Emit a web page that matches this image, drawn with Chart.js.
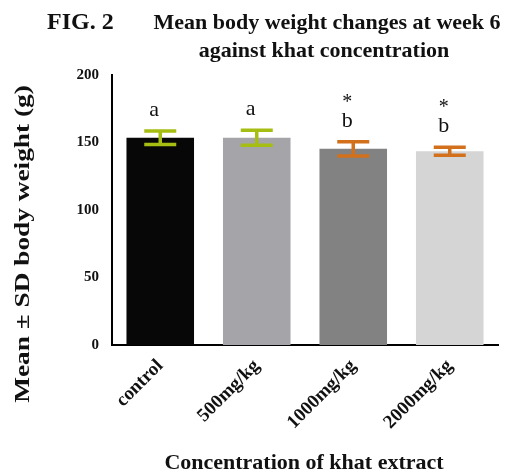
<!DOCTYPE html>
<html>
<head>
<meta charset="utf-8">
<script src="https://cdn.jsdelivr.net/npm/chart.js@4.4.1/dist/chart.umd.min.js"></script>
<style>
  html, body { margin: 0; padding: 0; background: #fff; }
  .container { width: 510px; height: 474px; }
</style>
</head>
<body>
<div class="container"><canvas id="weightChart" width="510" height="474"></canvas></div>
<script>
const labels = ["control", "500mg/kg", "1000mg/kg", "2000mg/kg"];
const means = [153.5, 153.5, 145.3, 143.5];
const sds = [5, 5.5, 5.3, 3];
const letters = ["a", "a", "b", "b"];
const stars = ["", "", "*", "*"];
const barColors = ["#070707", "#a5a4a9", "#828282", "#d5d5d5"];
const errColors = ["#a6bd12", "#a6bd12", "#d2701c", "#d2701c"];
const yTicks = [0, 50, 100, 150, 200];

const serif = "'Liberation Serif', 'Times New Roman', serif";

const extras = {
  id: "extras",
  afterDatasetsDraw(chart) {
    const ctx = chart.ctx;
    const x = chart.scales.x;
    const y = chart.scales.y;
    ctx.save();
    // error bars
    means.forEach((m, i) => {
      const cx = x.getPixelForValue(i);
      const top = y.getPixelForValue(m + sds[i]);
      const bot = y.getPixelForValue(m - sds[i]);
      ctx.strokeStyle = errColors[i];
      ctx.lineWidth = 3.5;
      ctx.beginPath();
      ctx.moveTo(cx, top);
      ctx.lineTo(cx, bot);
      ctx.moveTo(cx - 16, top);
      ctx.lineTo(cx + 16, top);
      ctx.moveTo(cx - 16, bot);
      ctx.lineTo(cx + 16, bot);
      ctx.stroke();
    });
    // significance letters
    ctx.fillStyle = "#111";
    ctx.textAlign = "center";
    ctx.textBaseline = "alphabetic";
    means.forEach((m, i) => {
      const cx = x.getPixelForValue(i) - 6;
      const top = y.getPixelForValue(m + sds[i]);
      ctx.font = "22px " + serif;
      ctx.fillText(letters[i], cx, top - 15);
      if (stars[i]) {
        ctx.font = "20px " + serif;
        ctx.fillText(stars[i], cx, top - 34);
      }
    });
    // titles
    ctx.font = "bold 24px " + serif;
    ctx.textAlign = "left";
    ctx.fillText("FIG. 2", 47, 29);
    ctx.font = "bold 22px " + serif;
    ctx.textAlign = "center";
    ctx.fillText("Mean body weight changes at week 6", 327, 29);
    ctx.fillText("against khat concentration", 324, 57);
    ctx.fillText("Concentration of khat extract", 304, 469);
    ctx.translate(29, 244);
    ctx.rotate(-Math.PI / 2);
    ctx.scale(1.3, 1);
    ctx.font = "bold 21px " + serif;
    ctx.fillText("Mean \u00b1 SD body weight (g)", 0, 0);
    ctx.restore();
  }
};

new Chart(document.getElementById("weightChart"), {
  type: "bar",
  data: {
    labels: labels,
    datasets: [
      {
        data: means,
        backgroundColor: barColors,
        borderWidth: 0,
        categoryPercentage: 1,
        barPercentage: 0.7,
      },
    ],
  },
  options: {
    responsive: false,
    animation: false,
    events: [],
    layout: { padding: { left: 0, top: 75, right: 12, bottom: 0 } },
    plugins: { legend: { display: false }, tooltip: { enabled: false } },
    scales: {
      y: {
        min: 0,
        max: 200,
        afterFit: (s) => { s.width = 112; },
        afterBuildTicks: (s) => { s.ticks = yTicks.map((v) => ({ value: v })); },
        grid: { display: false, drawTicks: true, tickLength: 6, tickColor: "#000", tickWidth: 2 },
        border: { color: "#000", width: 2 },
        ticks: { color: "#111", font: { family: serif, size: 15, weight: "bold" }, padding: 7 },
      },
      x: {
        afterFit: (s) => { s.height = 129; },
        grid: { display: false, drawTicks: true, tickLength: 6, tickColor: "#000", tickWidth: 2 },
        border: { color: "#000", width: 2 },
        ticks: {
          color: "#111",
          font: { family: serif, size: 19, weight: "bold" },
          maxRotation: 45,
          minRotation: 45,
          padding: 4,
        },
      },
    },
  },
  plugins: [extras],
});
</script>
</body>
</html>
